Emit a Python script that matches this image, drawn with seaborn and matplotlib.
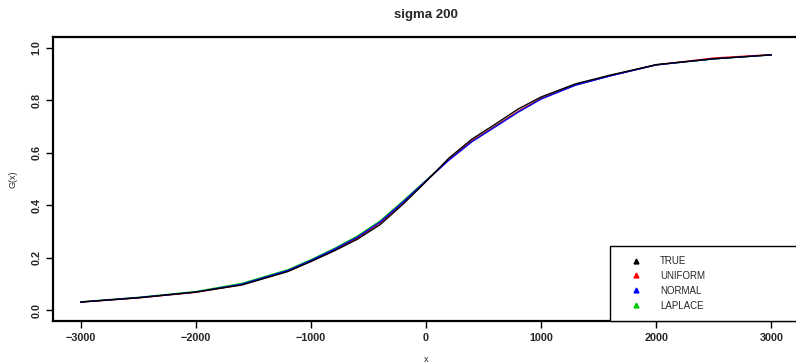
import numpy as np
import pandas as pd
import matplotlib
matplotlib.use('Agg')
import matplotlib.pyplot as plt
from matplotlib.lines import Line2D
import seaborn as sns

# x grid and the four estimated distribution functions G(x)
x_vals = [-3000, -2500, -2000, -1600, -1200, -1000, -800, -600, -400, -200,
          0, 200, 400, 600, 800, 1000, 1300, 1600, 2000, 2500, 3000]
g_true = [0.032, 0.048, 0.070, 0.097, 0.148, 0.186, 0.226, 0.270, 0.326, 0.404,
          0.490, 0.580, 0.652, 0.708, 0.766, 0.812, 0.862, 0.895, 0.935, 0.957, 0.972]
g_uniform = [0.032, 0.048, 0.069, 0.098, 0.150, 0.188, 0.230, 0.275, 0.333, 0.410,
             0.492, 0.574, 0.645, 0.700, 0.757, 0.806, 0.858, 0.893, 0.934, 0.960, 0.973]
g_normal = [0.032, 0.049, 0.070, 0.100, 0.152, 0.190, 0.232, 0.278, 0.336, 0.412,
            0.493, 0.572, 0.642, 0.698, 0.754, 0.804, 0.857, 0.892, 0.934, 0.957, 0.972]
g_laplace = [0.033, 0.050, 0.072, 0.103, 0.155, 0.193, 0.235, 0.282, 0.340, 0.416,
             0.495, 0.574, 0.644, 0.700, 0.756, 0.806, 0.858, 0.893, 0.934, 0.957, 0.972]

series = ['TRUE', 'UNIFORM', 'NORMAL', 'LAPLACE']
colors = {'TRUE': 'black', 'UNIFORM': 'red', 'NORMAL': 'blue', 'LAPLACE': '#00cd00'}

df = pd.concat([
    pd.DataFrame({'x': x_vals, 'G': g, 'est': name})
    for name, g in zip(series, [g_true, g_uniform, g_normal, g_laplace])
])

sns.set_theme(style='ticks')
plt.rcParams['font.family'] = ['Liberation Sans', 'DejaVu Sans']

fig = plt.figure(figsize=(7.96, 3.64), dpi=100)
ax = fig.add_axes([53 / 796, 43 / 364, 746 / 796, 284 / 364])

# draw estimates first, true curve on top
for name in ['LAPLACE', 'UNIFORM', 'NORMAL', 'TRUE']:
    sns.lineplot(data=df[df['est'] == name], x='x', y='G', color=colors[name],
                 linewidth=1.0, ax=ax, legend=False, estimator=None)

ax.set_xlim(-3240, 3240)
ax.set_ylim(-0.04, 1.04)
ax.set_xticks([-3000, -2000, -1000, 0, 1000, 2000, 3000])
ax.set_xticklabels(['\u22123000', '\u22122000', '\u22121000', '0', '1000', '2000', '3000'])
ax.set_yticks([0.0, 0.2, 0.4, 0.6, 0.8, 1.0])
ax.set_yticklabels(['0.0', '0.2', '0.4', '0.6', '0.8', '1.0'], rotation=90, va='center')
ax.tick_params(axis='both', length=5, width=1.0, labelsize=7.8, pad=3.5, color='black')
for lab in ax.get_xticklabels() + ax.get_yticklabels():
    lab.set_fontweight('bold')

for s in ax.spines.values():
    s.set_linewidth(1.6)
    s.set_color('black')

ax.set_title('sigma 200', fontsize=9.5, fontweight='bold', pad=14)
ax.set_xlabel('x', fontsize=6.5)
ax.set_ylabel('G(x)', fontsize=6.5)
ax.xaxis.set_label_coords(0.5, -0.12)
ax.yaxis.set_label_coords(-0.048, 0.5)

handles = [Line2D([], [], linestyle='none', marker='^', markersize=3.5,
                  color=colors[n]) for n in series]
leg = ax.legend(handles, series, loc='lower left',
                bbox_to_anchor=((610 - 53) / 746, 0, (799 - 610) / 746, 0.3),
                mode='expand', borderaxespad=0, fancybox=False, fontsize=7,
                handlelength=3.2, handletextpad=0.9, labelspacing=0.5,
                borderpad=1.07, frameon=True, edgecolor='black')
leg.get_frame().set_linewidth(1.0)
leg.get_frame().set_alpha(1)

fig.savefig('out.png', dpi=100)
